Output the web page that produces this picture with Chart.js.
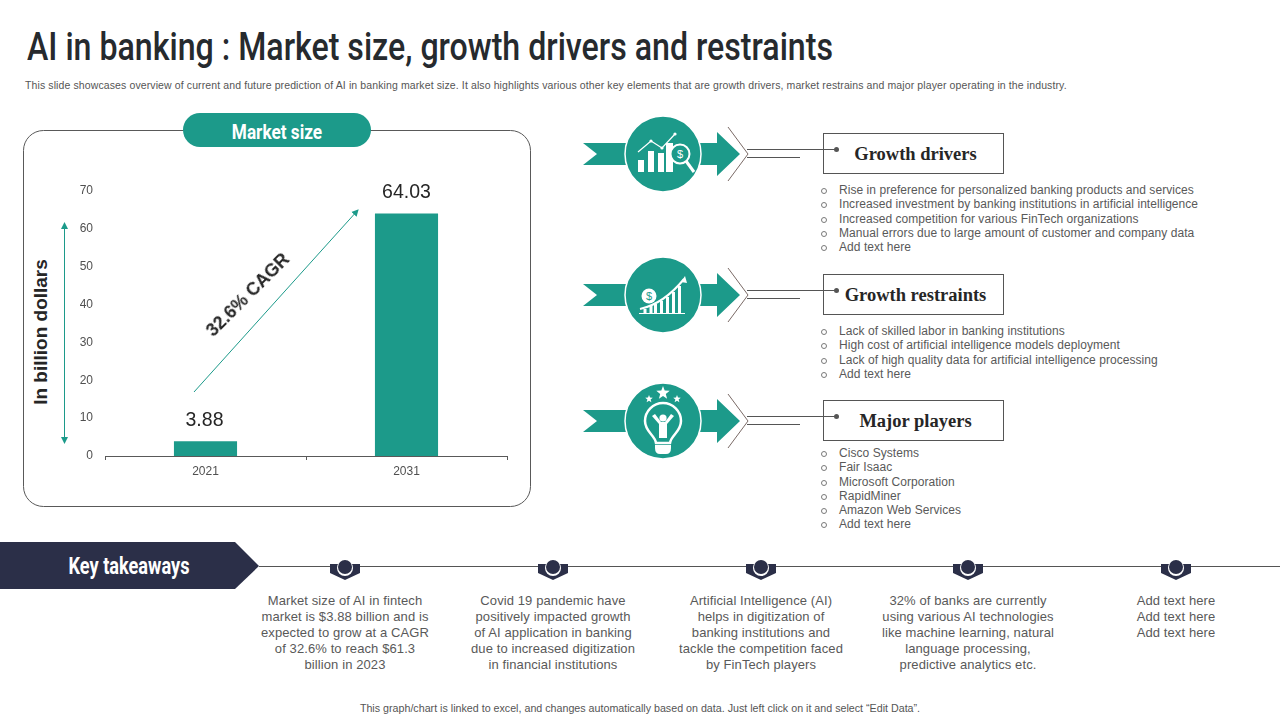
<!DOCTYPE html>
<html>
<head>
<meta charset="UTF-8">
<title>AI in banking</title>
<script src="https://cdn.jsdelivr.net/npm/chart.js"></script>
<style>
  html, body { margin: 0; padding: 0; background: #fff; }
  #page { position: relative; width: 1280px; height: 720px; overflow: hidden; font-family: "Liberation Sans", Arial, sans-serif; }
  #page > * { position: absolute; }
  #art { left: 0; top: 0; }
  #chart { left: 70px; top: 165px; }
  .cond { font-family: "Roboto", sans-serif; font-weight: 500; white-space: nowrap; }
  #title { left: 27px; top: 25px; font-size: 39px; line-height: 44px; color: #262a2e; transform-origin: 0 0; transform: scaleX(0.824); }
  #sub { left: 25px; top: 79px; font-size: 10.5px; letter-spacing: 0.11px; line-height: 13px; color: #555; white-space: nowrap; }
  #pill { left: 183px; top: 113px; width: 188px; height: 34px; line-height: 38px; text-align: center; color: #fff; font-size: 21px; font-weight: 700; transform: scaleX(0.82); }
  #ylabel { left: 41px; top: 332px; font-weight: 700; font-size: 19px; color: #262626; white-space: nowrap; transform: translate(-50%, -50%) rotate(-90deg); }
  #cagr { left: 248px; top: 295px; font-weight: 700; font-size: 18px; color: #262626; white-space: nowrap; transform: translate(-50%, -50%) rotate(-45deg); }
  .head { left: 825px; width: 181px; text-align: center; font-family: "Liberation Serif", serif; font-weight: 700; font-size: 18.5px; line-height: 41px; color: #262626; }
  .list { left: 839px; font-size: 12px; letter-spacing: 0.05px; line-height: 14.3px; color: #595959; white-space: nowrap; }
  .list div { position: relative; }
  .list div::before { content: ""; position: absolute; left: -18px; top: 5px; width: 4px; height: 4px; border: 1px solid #7a7a7a; border-radius: 50%; }
  #keyt { left: 0; top: 542px; width: 258px; height: 47px; line-height: 50px; text-align: center; color: #fff; font-size: 23px; font-weight: 700; transform: scaleX(0.79); }
  .take { width: 190px; text-align: center; top: 593px; font-size: 13px; letter-spacing: 0.1px; line-height: 16px; color: #595959; white-space: nowrap; }
  #foot { left: 0; width: 1280px; top: 702px; text-align: center; font-size: 10.7px; line-height: 12px; color: #555; }
</style>
</head>
<body>
<div id="page">
  <svg id="art" width="1280" height="720" viewBox="0 0 1280 720"></svg>
  <canvas id="chart" width="440" height="321" style="width:440px;height:321px"></canvas>
  <div id="title" class="cond">AI in banking : Market size, growth drivers and restraints</div>
  <div id="sub">This slide showcases overview of current and future prediction of AI in banking market size. It also highlights various other key elements that are growth drivers, market restrains and major player operating in the industry.</div>
  <div id="pill" class="cond">Market size</div>
  <div id="ylabel">In billion dollars</div>
  <div id="cagr">32.6% CAGR</div>
  <div id="keyt" class="cond">Key takeaways</div>
  <div id="foot">This graph/chart is linked to excel, and changes automatically based on data. Just left click on it and select “Edit Data”.</div>
</div>
<script>
  // Datos de la grafica
  const categories = ["2021", "2031"];
  const marketSize = [3.88, 64.03];
  const valueLabels = ["3.88", "64.03"];
  const yMax = 70;
  const yStep = 10;

  const headings = ["Growth drivers", "Growth restraints", "Major players"];
  const driverItems = [
    "Rise in preference for personalized banking products and services",
    "Increased investment by banking institutions in artificial intelligence",
    "Increased competition for various FinTech organizations",
    "Manual errors due to large amount of customer and company data",
    "Add text here"
  ];
  const restraintItems = [
    "Lack of skilled labor in banking institutions",
    "High cost of artificial intelligence models deployment",
    "Lack of high quality data for artificial intelligence processing",
    "Add text here"
  ];
  const playerItems = [
    "Cisco Systems", "Fair Isaac", "Microsoft Corporation",
    "RapidMiner", "Amazon Web Services", "Add text here"
  ];
  const takeaways = [
    ["Market size of AI in fintech", "market is $3.88 billion and is", "expected to grow at a CAGR", "of 32.6% to reach $61.3", "billion in 2023"],
    ["Covid  19 pandemic have", "positively impacted growth", "of AI application in banking", "due to increased digitization", "in financial institutions"],
    ["Artificial Intelligence (AI)", "helps in digitization of", "banking institutions and", "tackle the competition faced", "by FinTech players"],
    ["32% of banks are currently", "using various  AI technologies", "like machine learning, natural", "language processing,", "predictive analytics etc."],
    ["Add text here", "Add text here", "Add text here"]
  ];

  const TEAL = "#1c9a8a";
  const NAVY = "#2b2f48";
  const page = document.getElementById("page");
  const art = document.getElementById("art");
  let svg = "";

  // Recuadro del panel y encabezado
  svg += `<rect x="23.5" y="130.5" width="507" height="376" rx="20" fill="none" stroke="#595959" stroke-width="1"/>`;
  svg += `<rect x="183" y="113" width="188" height="34" rx="17" fill="${TEAL}"/>`;

  // Flechas verde sobre la grafica
  svg += `<defs><marker id="tip" markerWidth="8" markerHeight="8" refX="6" refY="4" orient="auto-start-reverse"><path d="M0 0.5L7 4L0 7.5Z" fill="${TEAL}"/></marker></defs>`;
  svg += `<line x1="64.5" y1="223" x2="64.5" y2="443" stroke="${TEAL}" stroke-width="1" marker-start="url(#tip)" marker-end="url(#tip)"/>`;
  svg += `<line x1="194" y1="392" x2="358" y2="210" stroke="${TEAL}" stroke-width="1" marker-end="url(#tip)"/>`;

  // Iconos de cada fila
  const iconBars = `<g fill="#fff"><rect x="-25" y="6" width="6" height="12"/><rect x="-15" y="-3" width="6" height="21"/><rect x="-5" y="-1" width="6" height="19"/><rect x="3" y="-11" width="7" height="29"/>
    <path d="M-25 -2L-12 -13L-1 -6L12 -20" fill="none" stroke="#fff" stroke-width="1.2"/><circle cx="-12" cy="-13" r="1.6"/><circle cx="-1" cy="-6" r="1.6"/><circle cx="12" cy="-20" r="1.6"/>
    <circle cx="17" cy="0" r="9.5" fill="${TEAL}" stroke="#fff" stroke-width="2"/><path d="M23 7L31 18" stroke="#fff" stroke-width="3"/><text x="17" y="4" font-size="11" text-anchor="middle" font-family="Liberation Sans">$</text></g>`;
  const iconCurve = `<g fill="#fff"><circle cx="-14" cy="1" r="7.5"/><text x="-14" y="5" font-size="11" text-anchor="middle" fill="${TEAL}" font-family="Liberation Sans">$</text>
    <path d="M-23 14C-5 10 8 0 21 -16" fill="none" stroke="#fff" stroke-width="2"/><path d="M22 -19L18 -13L24 -12Z"/>
    <path d="M-18 18V14M-12 18V11" stroke="#fff" stroke-width="3"/><rect x="-9" y="9" width="3" height="9"/><rect x="-3" y="6" width="3" height="12"/><rect x="3" y="2" width="3" height="16"/><rect x="9" y="-3" width="3" height="21"/><rect x="15" y="-9" width="3" height="27"/><rect x="-24" y="18" width="46" height="1"/></g>`;
  const star = (x, y, r) => {
    let p = "";
    for (let i = 0; i < 10; i++) {
      const a = -Math.PI / 2 + i * Math.PI / 5;
      const q = i % 2 ? r * 0.42 : r;
      p += (i ? "L" : "M") + (x + q * Math.cos(a)).toFixed(1) + " " + (y + q * Math.sin(a)).toFixed(1);
    }
    return `<path d="${p}Z" fill="#fff"/>`;
  };
  const iconBulb = `<g>${star(0, -28, 7)}${star(-14, -22, 4)}${star(14, -22, 4)}
    <path d="M-7 22C-8 14 -18 11 -18 0A18 18 0 0 1 18 0C18 11 8 14 7 22Z" fill="none" stroke="#fff" stroke-width="2.5"/>
    <circle cx="0" cy="-3" r="3.6" fill="#fff"/><path d="M-11 -5L-4 3V17H4V3L11 -5L8 -7L2 1H-2L-8 -7Z" fill="#fff"/>
    <path d="M-8 24H8V27Q8 33 3 33H-3Q-8 33 -8 27Z" fill="#fff"/></g>`;
  const rowIcons = [iconBars, iconCurve, iconBulb];
  const rowY = [0, 141, 267];

  rowY.forEach((dy, i) => {
    const y = 154 + dy;
    // Cinta con punta de flecha
    svg += `<path d="M583 ${y-11}H717V${y-22}L740 ${y}L717 ${y+22}V${y+11}H583L597 ${y}Z" fill="${TEAL}"/>`;
    svg += `<circle cx="663" cy="${y}" r="38" fill="${TEAL}" stroke="#fff" stroke-width="1.5"/>`;
    svg += `<g transform="translate(663 ${y})">${rowIcons[i]}</g>`;
    svg += `<path d="M728 ${y-27}L748 ${y}L728 ${y+27}" fill="none" stroke="#7a6a66" stroke-width="1"/>`;
    svg += `<path d="M747 ${y-4.5}H836M747 ${y+3.5}H800" fill="none" stroke="#555" stroke-width="1"/>`;
    svg += `<rect x="823.5" y="${y-20.5}" width="180" height="40" fill="none" stroke="#555" stroke-width="1"/>`;
    svg += `<circle cx="836.5" cy="${y-4.5}" r="2.5" fill="#555"/>`;

    const h = document.createElement("div");
    h.className = "head";
    h.style.top = (y - 20) + "px";
    h.textContent = headings[i];
    page.appendChild(h);
  });

  // Listas de texto
  [[driverItems, 183], [restraintItems, 324], [playerItems, 446]].forEach(([items, top]) => {
    const l = document.createElement("div");
    l.className = "list";
    l.style.top = top + "px";
    items.forEach(t => {
      const d = document.createElement("div");
      d.textContent = t;
      l.appendChild(d);
    });
    page.appendChild(l);
  });

  // Banda inferior
  svg += `<path d="M0 542H235L259 566L235 589H0Z" fill="${NAVY}"/>`;
  svg += `<line x1="259" y1="566.5" x2="1280" y2="566.5" stroke="#555" stroke-width="1"/>`;
  const takeX = [345, 553, 761, 968, 1176];
  takeX.forEach((x, i) => {
    svg += `<path d="M${x-15} 564H${x+15}V573L${x} 580L${x-15} 573Z" fill="${NAVY}"/>`;
    svg += `<circle cx="${x}" cy="568" r="8" fill="#fff"/><circle cx="${x}" cy="567" r="7" fill="${NAVY}"/>`;
    const d = document.createElement("div");
    d.className = "take";
    d.style.left = (x - 95) + "px";
    d.innerHTML = takeaways[i].join("<br>");
    page.appendChild(d);
  });
  art.innerHTML = svg;

  // Etiquetas de valor encima de cada barra
  const valueLabelPlugin = {
    id: "valueLabels",
    afterDatasetsDraw(chart) {
      const ctx = chart.ctx;
      const bars = chart.getDatasetMeta(0).data;
      ctx.save();
      ctx.font = "19.5px 'Liberation Sans'";
      ctx.fillStyle = "#262626";
      ctx.textAlign = "center";
      ctx.textBaseline = "middle";
      bars.forEach((bar, i) => ctx.fillText(valueLabels[i], bar.x - (i === 0 ? 1 : 0), bar.y - 20.5));
      ctx.restore();
    }
  };

  new Chart(document.getElementById("chart"), {
    type: "bar",
    plugins: [valueLabelPlugin],
    data: {
      labels: categories,
      datasets: [{
        data: marketSize,
        backgroundColor: TEAL,
        categoryPercentage: 1,
        barPercentage: 0.314
      }]
    },
    options: {
      responsive: false,
      animation: false,
      layout: { padding: { top: 26, right: 3, left: 0, bottom: 0 } },
      plugins: { legend: { display: false }, tooltip: { enabled: false } },
      scales: {
        x: {
          afterFit(scale) { scale.height = 30; },
          grid: { drawOnChartArea: false, color: "#595959", tickLength: 4 },
          border: { color: "#595959" },
          ticks: { color: "#505050", font: { family: "Liberation Sans", size: 12 }, padding: 4 }
        },
        y: {
          min: 0,
          max: yMax,
          afterFit(scale) { scale.width = 35; },
          grid: { display: false, drawTicks: false },
          border: { display: false },
          ticks: { stepSize: yStep, color: "#505050", font: { family: "Liberation Sans", size: 12 }, padding: 12 }
        }
      }
    }
  });
</script>
</body>
</html>
